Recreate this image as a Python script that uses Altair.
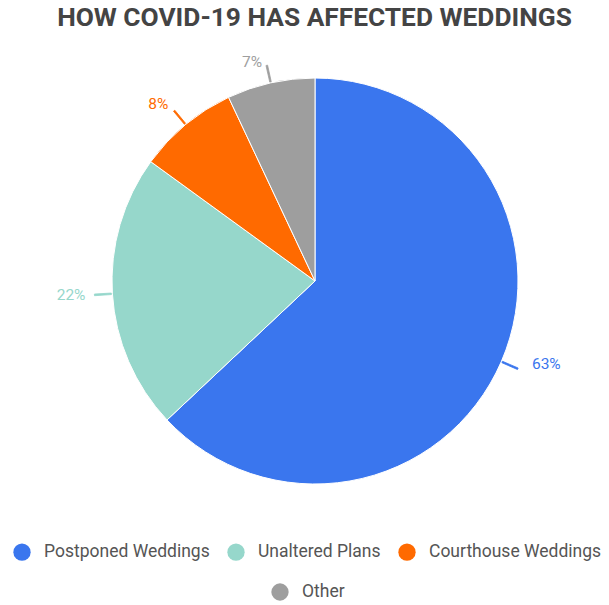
import math
import altair as alt
import pandas as pd

categories = ["Postponed Weddings", "Unaltered Plans", "Courthouse Weddings", "Other"]
shares = [63, 22, 8, 7]
labels = ["63%", "22%", "8%", "7%"]
colors = ["#3a76ee", "#96d7cb", "#ff6a00", "#9e9e9e"]

df = pd.DataFrame({"cat": categories, "val": shares, "label": labels})
df["end"] = df["val"].cumsum()
df["start"] = df["end"] - df["val"]
df["mid"] = (df["start"] + df["end"]) / 2
df["lo"] = df["mid"] - 0.06
df["hi"] = df["mid"] + 0.06

CX, CY, R = 315, 241, 203
theta_scale = alt.Scale(domain=[0, 100], range=[0, 2 * math.pi])
base = alt.Chart(df)
main_cats = categories[:3]

def legend(x, y):
    return alt.Legend(
        orient="none", legendX=x, legendY=y, direction="horizontal", title=None,
        symbolType="circle", symbolSize=300, symbolStrokeWidth=0,
        labelFontSize=17.5, labelFont="Roboto", labelColor="#555555", labelLimit=400,
        columnPadding=17, labelOffset=13, padding=0,
    )

arc_main = base.transform_filter(
    alt.FieldOneOfPredicate(field="cat", oneOf=main_cats)
).mark_arc(outerRadius=R, stroke="white", strokeWidth=1).encode(
    theta=alt.Theta("start:Q", scale=theta_scale),
    theta2="end:Q",
    color=alt.Color("cat:N", scale=alt.Scale(domain=main_cats, range=colors[:3]),
                    legend=legend(13, 503)),
    x=alt.value(CX), y=alt.value(CY),
)

arc_other = base.transform_filter(
    alt.FieldOneOfPredicate(field="cat", oneOf=categories[3:])
).mark_arc(outerRadius=R, stroke="white", strokeWidth=1).encode(
    theta=alt.Theta("start:Q", scale=theta_scale),
    theta2="end:Q",
    color=alt.Color("cat:N", scale=alt.Scale(domain=categories[3:], range=colors[3:]),
                    legend=legend(271, 543)),
    x=alt.value(CX), y=alt.value(CY),
)

all_scale = alt.Scale(domain=categories, range=colors)

leaders = base.mark_arc(innerRadius=R + 1, outerRadius=R + 18, strokeWidth=0.8).encode(
    theta=alt.Theta("lo:Q", scale=theta_scale),
    theta2="hi:Q",
    fill=alt.Fill("cat:N", scale=all_scale, legend=None),
    stroke=alt.Stroke("cat:N", scale=all_scale, legend=None),
    x=alt.value(CX), y=alt.value(CY),
)

def label_layer(cats, align, radius, dx=0, dy=0):
    return base.transform_filter(
        alt.FieldOneOfPredicate(field="cat", oneOf=cats)
    ).mark_text(radius=radius, fontSize=15.5, font="Roboto", align=align, dx=dx, dy=dy).encode(
        theta=alt.Theta("mid:Q", scale=theta_scale),
        text="label:N",
        fill=alt.Fill("cat:N", scale=all_scale, legend=None),
        x=alt.value(CX), y=alt.value(CY),
    )

text_right = label_layer(categories[:1], "left", 232, dx=4, dy=-9)
text_left = label_layer(categories[1:3], "right", 230)
text_top = label_layer(categories[3:], "center", 224, dx=-14)

chart = alt.layer(arc_main, arc_other, leaders, text_right, text_left, text_top).resolve_scale(
    color="independent"
).properties(
    width=609, height=565,
    title=alt.TitleParams("HOW COVID-19 HAS AFFECTED WEDDINGS", fontSize=26.3, font="Roboto",
                          fontWeight="bold", color="#444444", anchor="middle",
                          frame="group", baseline="top", offset=0, dy=-9, dx=10),
    padding={"top": 40, "left": 0, "right": 0, "bottom": 0},
    autosize=alt.AutoSizeParams(type="none"),
).configure_view(stroke=None)

chart.save("out.html", embed_options={"renderer": "svg", "actions": False})
